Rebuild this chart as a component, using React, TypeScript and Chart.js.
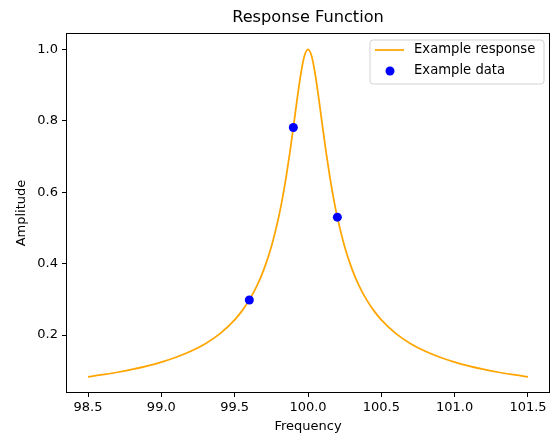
import { useEffect, useRef } from "react";
import { Chart, registerables } from "chart.js";

Chart.register(...registerables);

const curveFreq = [
  98.5, 98.6, 98.7, 98.8, 98.9, 99.0, 99.1, 99.2, 99.3, 99.4, 99.5, 99.55, 99.6,
  99.65, 99.7, 99.75, 99.8, 99.825, 99.85, 99.875, 99.9, 99.925, 99.95, 99.975,
  100.0, 100.025, 100.05, 100.075, 100.1, 100.125, 100.15, 100.175, 100.2,
  100.25, 100.3, 100.35, 100.4, 100.45, 100.5, 100.6, 100.7, 100.8, 100.9,
  101.0, 101.1, 101.2, 101.3, 101.4, 101.5,
];
const curveAmp = [
  0.083, 0.0889, 0.0957, 0.1036, 0.1129, 0.124, 0.1376, 0.1544, 0.1758, 0.204,
  0.2425, 0.2676, 0.2983, 0.3363, 0.3846, 0.4472, 0.53, 0.5812, 0.6402, 0.7071,
  0.7809, 0.8575, 0.9285, 0.9806, 1.0, 0.9806, 0.9285, 0.8575, 0.7809, 0.7071,
  0.6402, 0.5812, 0.53, 0.4472, 0.3846, 0.3363, 0.2983, 0.2676, 0.2425, 0.204,
  0.1758, 0.1544, 0.1376, 0.124, 0.1129, 0.1036, 0.0957, 0.0889, 0.083,
];
const dataFreq = [99.6, 99.9, 100.2];
const dataAmp = [0.298, 0.781, 0.53];
const xTickValues = [98.5, 99.0, 99.5, 100.0, 100.5, 101.0, 101.5];
const yTickValues = [0.2, 0.4, 0.6, 0.8, 1.0];
const titleText = "Response Function";
const xLabel = "Frequency";
const yLabel = "Amplitude";
const seriesNames = ["Example response", "Example data"];

const FONT = "'DejaVu Sans', sans-serif";
const ORANGE = "#FFA500";
const BLUE = "#0000FF";

const framePlugin = {
  id: "frame",
  afterDraw(chart: any) {
    const { ctx, chartArea } = chart;
    const { left, top, right, bottom } = chartArea;
    ctx.save();
    ctx.strokeStyle = "#000";
    ctx.lineWidth = 1;
    ctx.strokeRect(left + 0.5, top + 0.5, right - left - 1, bottom - top - 1);
    ctx.fillStyle = "#000";
    ctx.font = `16.2px ${FONT}`;
    ctx.textAlign = "center";
    ctx.textBaseline = "middle";
    ctx.fillText(titleText, (left + right) / 2, 18);
    const bx = 370, by = 40, bw = 174, bh = 44, r = 3;
    ctx.beginPath();
    ctx.moveTo(bx + r, by);
    ctx.lineTo(bx + bw - r, by);
    ctx.quadraticCurveTo(bx + bw, by, bx + bw, by + r);
    ctx.lineTo(bx + bw, by + bh - r);
    ctx.quadraticCurveTo(bx + bw, by + bh, bx + bw - r, by + bh);
    ctx.lineTo(bx + r, by + bh);
    ctx.quadraticCurveTo(bx, by + bh, bx, by + bh - r);
    ctx.lineTo(bx, by + r);
    ctx.quadraticCurveTo(bx, by, bx + r, by);
    ctx.closePath();
    ctx.fillStyle = "rgba(255,255,255,0.8)";
    ctx.fill();
    ctx.strokeStyle = "#d3d3d3";
    ctx.lineWidth = 1;
    ctx.stroke();
    ctx.strokeStyle = ORANGE;
    ctx.lineWidth = 1.75;
    ctx.beginPath();
    ctx.moveTo(375, 50);
    ctx.lineTo(404, 50);
    ctx.stroke();
    ctx.fillStyle = BLUE;
    ctx.beginPath();
    ctx.arc(390, 71, 4.5, 0, Math.PI * 2);
    ctx.fill();
    ctx.fillStyle = "#000";
    ctx.font = `13.2px ${FONT}`;
    ctx.textAlign = "left";
    ctx.textBaseline = "middle";
    ctx.fillText(seriesNames[0], 414, 50);
    ctx.fillText(seriesNames[1], 414, 71);
    ctx.restore();
  },
};

export default function App() {
  const ref = useRef<HTMLCanvasElement | null>(null);
  useEffect(() => {
    document.body.style.margin = "0";
    if (!ref.current) return;
    const chart = new Chart(ref.current, {
      type: "scatter",
      data: {
        datasets: [
          {
            type: "line",
            label: seriesNames[0],
            data: curveFreq.map((f, i) => ({ x: f, y: curveAmp[i] })),
            borderColor: ORANGE,
            borderWidth: 1.75,
            pointRadius: 0,
            fill: false,
            cubicInterpolationMode: "monotone",
            order: 2,
          },
          {
            type: "scatter",
            label: seriesNames[1],
            data: dataFreq.map((f, i) => ({ x: f, y: dataAmp[i] })),
            backgroundColor: BLUE,
            borderColor: BLUE,
            pointRadius: 4.5,
            borderWidth: 0,
            order: 1,
          },
        ],
      },
      options: {
        animation: false,
        responsive: false,
        layout: { autoPadding: false, padding: { top: 33, left: 0, right: 0, bottom: 0 } },
        plugins: {
          legend: { display: false },
          title: { display: false },
          tooltip: { enabled: false },
        },
        scales: {
          x: {
            type: "linear",
            min: 98.35,
            max: 101.65,
            afterBuildTicks: (s: any) => {
              s.ticks = xTickValues.map((v) => ({ value: v }));
            },
            afterFit: (s: any) => {
              s.height = 41;
              s.paddingLeft = 0;
              s.paddingRight = 0;
            },
            ticks: {
              callback: (v: any) => Number(v).toFixed(1),
              color: "#000",
              font: { family: FONT, size: 13 },
              padding: 3,
              maxRotation: 0,
              autoSkip: false,
            },
            grid: {
              display: true,
              drawOnChartArea: false,
              drawTicks: true,
              tickLength: 4,
              tickColor: "#000",
            },
            border: { display: false },
            title: {
              display: true,
              text: xLabel,
              color: "#000",
              font: { family: FONT, size: 13 },
              padding: { top: 0, bottom: 0 },
            },
          },
          y: {
            type: "linear",
            min: 0.0376,
            max: 1.0458,
            afterBuildTicks: (s: any) => {
              s.ticks = yTickValues.map((v) => ({ value: v }));
            },
            afterFit: (s: any) => {
              s.width = 66;
              s.paddingTop = 0;
              s.paddingBottom = 0;
            },
            ticks: {
              callback: (v: any) => Number(v).toFixed(1),
              color: "#000",
              font: { family: FONT, size: 13 },
              padding: 4,
              autoSkip: false,
            },
            grid: {
              display: true,
              drawOnChartArea: false,
              drawTicks: true,
              tickLength: 4,
              tickColor: "#000",
            },
            border: { display: false },
            title: {
              display: true,
              text: yLabel,
              color: "#000",
              font: { family: FONT, size: 13 },
              padding: { top: 14, bottom: 0 },
            },
          },
        },
      },
      plugins: [framePlugin],
    } as any);
    return () => chart.destroy();
  }, []);
  return (
    <div style={{ width: 550, height: 434 }}>
      <canvas ref={ref} width={550} height={434} style={{ display: "block" }} />
    </div>
  );
}
